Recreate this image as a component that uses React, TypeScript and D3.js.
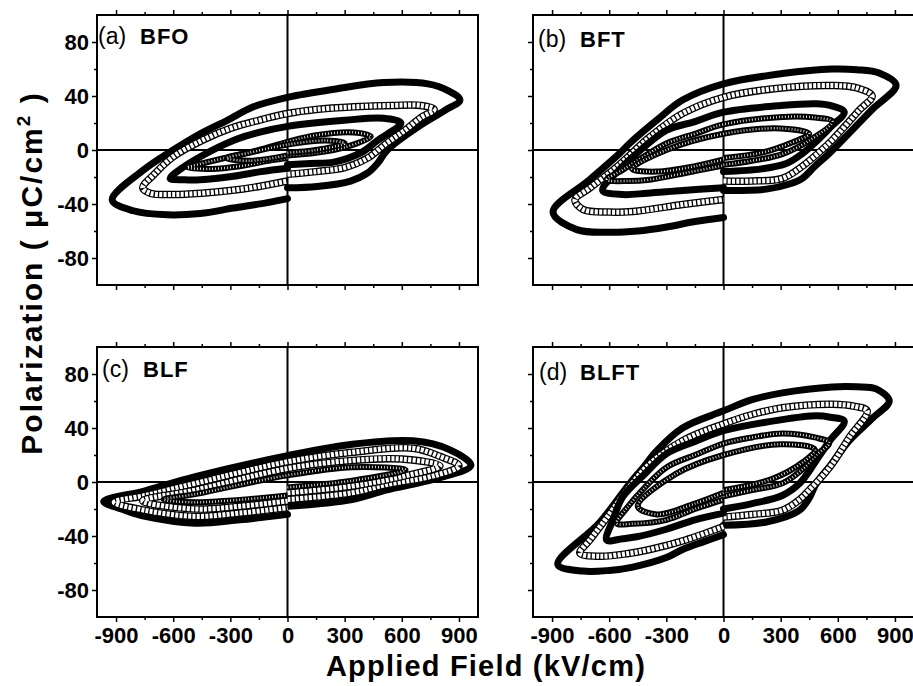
import React, { useRef, useEffect } from 'react'
import * as d3 from 'd3'

type Pt = [number, number]

// axis ticks: field in kV/cm, polarization in uC/cm2
const fieldTicks = [-900, -600, -300, 0, 300, 600, 900]
const fieldMinorTicks = [-750, -450, -150, 150, 450, 750]
const polTicks = [-80, -40, 0, 40, 80]
const polMinorTicks = [-60, -20, 20, 60]

const panelIds = ['(a)', '(b)', '(c)', '(d)']
const panelNames = ['BFO', 'BFT', 'BLF', 'BLFT']

// (a) BFO loops, each traced from E=0 -> +Emax -> -Emax -> 0
const bfoOuter: Pt[] = [[0, -28], [156, -27], [331, -23], [421, -17], [472, -10], [524, 0], [684, 17], [822, 29], [905, 37], [842, 44], [737, 49], [505, 50], [243, 45], [0, 39], [-179, 32], [-316, 22], [-458, 12], [-600, 0], [-758, -15], [-920, -37], [-810, -45], [-632, -48], [-458, -47], [-284, -43], [-105, -39], [0, -36]]
const bfoOpen: Pt[] = [[0, -18], [150, -16], [300, -13], [420, -6], [520, 5], [620, 15], [700, 24], [770, 30], [700, 33], [550, 33], [350, 32], [150, 30], [0, 27], [-150, 22], [-300, 16], [-450, 7], [-600, -5], [-700, -18], [-760, -28], [-720, -32], [-600, -33], [-450, -32], [-300, -30], [-150, -27], [0, -23]]
const bfoMid: Pt[] = [[0, -11], [120, -10], [243, -9], [386, -2], [472, 7], [595, 20], [505, 23.5], [300, 22], [0, 17.5], [-150, 13], [-284, 7], [-458, -5], [-560, -14], [-616, -21], [-540, -22], [-458, -22], [-284, -19.5], [-140, -16], [0, -13.5]]
const bfoInner: Pt[] = [[0, -4], [150, -2], [300, 2], [437, 10], [350, 13], [150, 11], [0, 6], [-150, 0], [-300, -5], [-450, -10], [-526, -13], [-400, -14], [-250, -12], [-100, -8], [0, -6]]
const bfoCore: Pt[] = [[0, -2], [150, 0], [300, 5], [200, 7], [0, 4], [-200, -2], [-320, -6], [-200, -8], [0, -4]]

// (b) BFT
const bftOuter: Pt[] = [[0, -30], [225, -29], [350, -25], [414, -21], [480, -12], [555, -2.5], [660, 12.5], [780, 30], [906, 48], [817, 57], [700, 59.5], [571, 60], [309, 56.6], [0, 49], [-215, 37], [-351, 22], [-492, 5], [-545, -2.5], [-702, -22], [-895, -46], [-770, -59], [-597, -61], [-450, -60], [-298, -57], [-150, -53], [0, -50]]
const bftOpen: Pt[] = [[0, -23], [150, -23], [309, -21], [414, -12], [500, -2], [571, 7.4], [712, 29.4], [780, 40], [700, 46], [571, 47.8], [277, 45.6], [0, 39], [-215, 27], [-387, 9.6], [-560, -12.5], [-700, -28], [-780, -37], [-738, -44], [-600, -46], [-476, -45.6], [-215, -40.4], [0, -36.6]]
const bftMid: Pt[] = [[0, -16], [200, -14], [330, -10], [420, -2], [500, 8], [570, 18], [634, 28], [560, 33], [487, 34.3], [300, 33], [0, 28], [-150, 21], [-298, 14.7], [-455, -2.5], [-550, -15], [-634, -30], [-529, -33], [-400, -32], [-215, -30], [0, -28]]
const bftInner: Pt[] = [[0, -11], [150, -8], [309, -3], [450, 7], [571, 21], [480, 24], [309, 24.5], [0, 19], [-150, 12], [-298, 5], [-420, -5], [-529, -14.7], [-613, -22], [-500, -23], [-387, -22], [-200, -17], [0, -11.5]]
const bftCore: Pt[] = [[0, -6], [200, -2], [350, 5], [450, 12], [300, 16], [0, 12], [-300, 0], [-480, -14], [-350, -16], [-150, -12], [0, -7]]

// (c) BLF
const blfOuter: Pt[] = [[0, -18], [340, -13], [516, -6], [779, 2.5], [963, 12.3], [850, 24], [658, 30.5], [340, 28], [0, 19.5], [-484, 4], [-747, -6.5], [-965, -14.5], [-850, -21], [-747, -25.5], [-484, -30.5], [-250, -28], [0, -24]]
const blfOpen: Pt[] = [[0, -13], [340, -8], [516, -2], [779, 5], [900, 12], [800, 19], [658, 25], [340, 22], [0, 15], [-484, -1], [-747, -10], [-910, -15], [-747, -21], [-484, -25.5], [-250, -23], [0, -19]]
const blfMid: Pt[] = [[0, -8], [340, -3], [600, 4], [800, 12], [600, 17], [340, 16], [0, 10], [-484, -6], [-760, -14], [-484, -20], [-250, -18], [0, -14]]
const blfInner: Pt[] = [[0, -4], [340, 1], [620, 9], [340, 11], [0, 5], [-484, -9], [-650, -13], [-484, -15], [0, -10]]

// (d) BLFT
const blftOuter: Pt[] = [[0, -32], [225, -29.6], [398, -21], [450, -12], [487, -1], [560, 12], [660, 30.6], [780, 47], [870, 60], [801, 69], [700, 70.5], [571, 70.4], [309, 66], [150, 61], [0, 52.7], [-215, 40], [-351, 23], [-420, 11], [-492, -1], [-650, -30], [-870, -61], [-738, -66], [-600, -65.5], [-476, -63], [-300, -56], [-215, -50], [-100, -44], [0, -39]]
const blftOpen: Pt[] = [[0, -26], [150, -24], [309, -21], [400, -13], [450, -6], [510, 3], [571, 13.5], [660, 33], [754, 52.7], [690, 56], [571, 57.6], [309, 55], [150, 50], [0, 43], [-215, 30.6], [-387, 13.5], [-508, -6], [-600, -24], [-702, -43], [-754, -52.7], [-650, -55], [-500, -53], [-387, -50], [-200, -43], [0, -33]]
const blftMid: Pt[] = [[0, -20], [150, -16], [309, -10], [400, -1], [487, 16], [560, 31], [634, 45], [560, 48], [487, 49], [300, 46], [0, 38], [-150, 30], [-298, 21], [-420, 5], [-529, -11], [-580, -28], [-613, -43], [-530, -42], [-455, -40.6], [-300, -35], [-150, -28], [0, -23]]
const blftInner: Pt[] = [[0, -10.6], [150, -6], [309, -1], [420, 10], [487, 20], [555, 29], [480, 33], [309, 36], [150, 33], [0, 28.5], [-150, 20], [-298, 11], [-420, -5], [-500, -18], [-560, -30.6], [-480, -31], [-298, -28], [-150, -20], [0, -13]]
const blftCore: Pt[] = [[0, -6], [250, 2], [420, 15], [480, 24], [300, 28], [0, 20], [-250, 6], [-450, -18], [-350, -24], [-150, -16], [0, -8]]

type Kind = 'solid' | 'open' | 'speckle'

const panelLoops: { pts: Pt[]; kind: Kind }[][] = [
    [
        { pts: bfoOuter, kind: 'solid' },
        { pts: bfoOpen, kind: 'open' },
        { pts: bfoMid, kind: 'solid' },
        { pts: bfoInner, kind: 'speckle' },
        { pts: bfoCore, kind: 'speckle' },
    ],
    [
        { pts: bftOuter, kind: 'solid' },
        { pts: bftOpen, kind: 'open' },
        { pts: bftMid, kind: 'solid' },
        { pts: bftInner, kind: 'speckle' },
        { pts: bftCore, kind: 'speckle' },
    ],
    [
        { pts: blfOuter, kind: 'solid' },
        { pts: blfOpen, kind: 'open' },
        { pts: blfMid, kind: 'open' },
        { pts: blfInner, kind: 'speckle' },
    ],
    [
        { pts: blftOuter, kind: 'solid' },
        { pts: blftOpen, kind: 'open' },
        { pts: blftMid, kind: 'solid' },
        { pts: blftInner, kind: 'speckle' },
        { pts: blftCore, kind: 'speckle' },
    ],
]

const FONT = 'Liberation Sans, Arial, sans-serif'

const App = () => {
    const svgRef = useRef<SVGSVGElement>(null)

    useEffect(() => {
        const svg = d3.select(svgRef.current)
        svg.selectAll('*').remove()

        const pw = 381
        const ph = 270
        // panel frames: left, top, label offsets
        const frames = [
            { left: 97, top: 15, idX: 1, nameX: 43, labY: 29 },
            { left: 533, top: 15, idX: 5, nameX: 47, labY: 32 },
            { left: 97, top: 347, idX: 5, nameX: 46, labY: 30 },
            { left: 533, top: 347, idX: 6, nameX: 47, labY: 33 },
        ]

        frames.forEach((f, i) => {
            const x = d3.scaleLinear().domain([-1000, 1000]).range([f.left, f.left + pw])
            const y = d3.scaleLinear().domain([-100, 100]).range([f.top + ph, f.top])
            const g = svg.append('g')
            const showX = i >= 2
            const showY = i % 2 === 0

            // zero lines
            g.append('line')
                .attr('x1', x(0)).attr('x2', x(0))
                .attr('y1', f.top).attr('y2', f.top + ph)
                .attr('stroke', '#000').attr('stroke-width', 2)
            g.append('line')
                .attr('x1', f.left).attr('x2', f.left + pw)
                .attr('y1', y(0)).attr('y2', y(0))
                .attr('stroke', '#000').attr('stroke-width', 2)

            // hysteresis loops
            const line = d3.line<Pt>()
                .x((d) => x(d[0]))
                .y((d) => y(d[1]))
                .curve(d3.curveCatmullRom.alpha(0.5))

            panelLoops[i].forEach((lp) => {
                const d = line(lp.pts)
                if (lp.kind === 'solid') {
                    g.append('path').attr('d', d).attr('fill', 'none')
                        .attr('stroke', '#000').attr('stroke-width', 7)
                        .attr('stroke-linejoin', 'round').attr('stroke-linecap', 'round')
                } else if (lp.kind === 'open') {
                    g.append('path').attr('d', d).attr('fill', 'none')
                        .attr('stroke', '#000').attr('stroke-width', 7.5)
                        .attr('stroke-linejoin', 'round')
                    g.append('path').attr('d', d).attr('fill', 'none')
                        .attr('stroke', '#fff').attr('stroke-width', 5)
                        .attr('stroke-dasharray', '3 1.3')
                } else {
                    g.append('path').attr('d', d).attr('fill', 'none')
                        .attr('stroke', '#000').attr('stroke-width', 6)
                        .attr('stroke-linejoin', 'round')
                    g.append('path').attr('d', d).attr('fill', 'none')
                        .attr('stroke', '#fff').attr('stroke-width', 2.5)
                        .attr('stroke-dasharray', '0.8 2.2')
                }
            })

            // frame
            g.append('rect')
                .attr('x', f.left).attr('y', f.top)
                .attr('width', pw).attr('height', ph)
                .attr('fill', 'none').attr('stroke', '#000').attr('stroke-width', 2)

            // ticks
            const styleAxis = (a: any) => {
                a.select('.domain').remove()
                a.selectAll('line').attr('stroke', '#000').attr('stroke-width', 1.5)
                a.selectAll('text')
                    .attr('font-family', FONT)
                    .attr('font-size', 22)
                    .attr('font-weight', 'bold')
                    .attr('fill', '#000')
            }
            const fmt = (d: any) => String(d)

            g.append('g').attr('transform', `translate(0,${f.top})`)
                .call(d3.axisTop(x).tickValues(fieldTicks).tickSize(5).tickFormat(() => ''))
                .call(styleAxis)
            g.append('g').attr('transform', `translate(0,${f.top})`)
                .call(d3.axisTop(x).tickValues(fieldMinorTicks).tickSize(3).tickFormat(() => ''))
                .call(styleAxis)
            g.append('g').attr('transform', `translate(0,${f.top + ph})`)
                .call(d3.axisBottom(x).tickValues(fieldTicks).tickSize(5).tickPadding(5)
                    .tickFormat(showX ? fmt : () => ''))
                .call(styleAxis)
            g.append('g').attr('transform', `translate(0,${f.top + ph})`)
                .call(d3.axisBottom(x).tickValues(fieldMinorTicks).tickSize(3).tickFormat(() => ''))
                .call(styleAxis)
            g.append('g').attr('transform', `translate(${f.left},0)`)
                .call(d3.axisLeft(y).tickValues(polTicks).tickSize(5).tickPadding(3)
                    .tickFormat(showY ? fmt : () => ''))
                .call(styleAxis)
            g.append('g').attr('transform', `translate(${f.left},0)`)
                .call(d3.axisLeft(y).tickValues(polMinorTicks).tickSize(3).tickFormat(() => ''))
                .call(styleAxis)

            // panel label
            g.append('text')
                .attr('x', f.left + f.idX).attr('y', f.top + f.labY)
                .attr('font-family', FONT).attr('font-size', 23)
                .text(panelIds[i])
            g.append('text')
                .attr('x', f.left + f.nameX).attr('y', f.top + f.labY)
                .attr('font-family', FONT).attr('font-size', 22)
                .attr('font-weight', 'bold').attr('letter-spacing', 1)
                .text(panelNames[i])
        })

        // axis titles
        const yt = svg.append('text')
            .attr('transform', 'translate(42,273) rotate(-90)')
            .attr('text-anchor', 'middle')
            .attr('font-family', FONT).attr('font-size', 30).attr('font-weight', 'bold')
            .attr('letter-spacing', 2)
        yt.append('tspan').text('Polarization ( \u03bcC/cm')
        yt.append('tspan').attr('dy', -12).attr('font-size', 19).text('2')
        yt.append('tspan').attr('dy', 12).text(' )')

        svg.append('text')
            .attr('x', 486).attr('y', 676)
            .attr('text-anchor', 'middle')
            .attr('font-family', FONT).attr('font-size', 29).attr('font-weight', 'bold')
            .attr('letter-spacing', 1.2)
            .text('Applied Field (kV/cm)')
    }, [])

    return (
        <svg
            ref={svgRef}
            width={913}
            height={686}
            style={{ position: 'absolute', left: 0, top: 0, background: '#fff' }}
        />
    )
}

export default App
